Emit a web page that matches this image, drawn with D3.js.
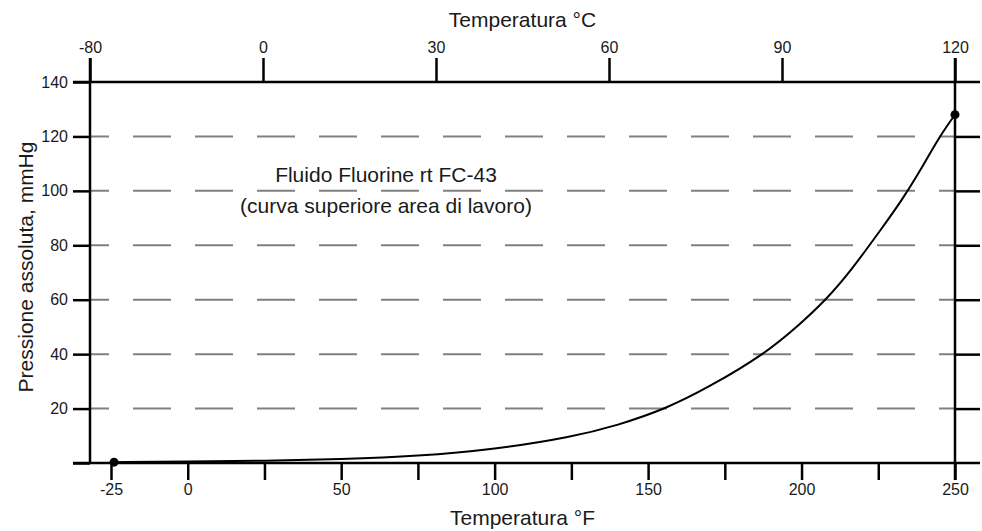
<!DOCTYPE html>
<html>
<head>
<meta charset="utf-8">
<script src="https://cdn.jsdelivr.net/npm/d3@7"></script>
<style>
  body { margin: 0; background: #fff; }
  svg { display: block; font-family: "Liberation Sans", Arial, sans-serif; }
</style>
</head>
<body>
<script>
// curve: temperature in F, absolute pressure in mmHg
var tempF    = [-24, 0, 25, 50, 75, 100, 125, 140, 156, 170, 188, 200, 208, 216, 226, 233, 240, 245, 250];
var pressure = [0.3, 0.5, 0.8, 1.4, 2.5, 5.0, 9.5, 13.8, 20, 28, 40, 51.5, 60, 70.5, 86, 97, 110, 120, 128];

var ticksF      = [-25, 0, 25, 50, 75, 100, 125, 150, 175, 200, 225, 250];
var labelsF     = [-25, 0, 50, 100, 150, 200, 250];
var ticksC      = [-80, 0, 30, 60, 90, 120];
var ticksP      = [0, 20, 40, 60, 80, 100, 120, 140];
var gridP       = [20, 40, 60, 80, 100, 120];

var W = 982, H = 531;
//NB: "top" is taken by window.top, so plot* names
var plotL = 90, plotR = 955, plotT = 82, plotB = 463;

var svg = d3.select("body").append("svg")
    .attr("width", W)
    .attr("height", H);

// scales
var x = d3.scaleLinear().domain([-25, 250]).range([111, plotR]);
var xC = d3.scaleLinear().domain([-80, 0, 120]).range([plotL, 263, plotR]); // -80 sits on the frame edge
var y = d3.scaleLinear().domain([0, 140]).range([plotB, plotT]);

//dashed grid
svg.append("g").selectAll("line")
    .data(gridP)
    .enter()
    .append("line")
    .attr("x1", plotL)
    .attr("x2", plotR)
    .attr("y1", function(d) { return y(d); })
    .attr("y2", function(d) { return y(d); })
    .attr("stroke", "#808080")
    .attr("stroke-width", 2)
    .attr("stroke-dasharray", "38,24")
    .attr("stroke-dashoffset", 19);

function styleAxis(g, size) {
  g.attr("font-size", size).attr("font-family", "'Liberation Sans', Arial, sans-serif");
  g.select(".domain").remove();
  g.selectAll(".tick line").attr("stroke", "#000").attr("stroke-width", 2.5);
  g.selectAll(".tick text").attr("fill", "#1a1a1a");
}

// bottom axis (F)
var gB = svg.append("g")
    .attr("transform", "translate(0," + plotB + ")")
    .call(d3.axisBottom(x).tickValues(ticksF).tickSize(17).tickPadding(4)
      .tickFormat(function(d) { return labelsF.indexOf(d) >= 0 ? String(d) : ""; }));
styleAxis(gB, 16);

// top axis (C)
var gT = svg.append("g")
    .attr("transform", "translate(0," + plotT + ")")
    .call(d3.axisTop(xC).tickValues(ticksC).tickSize(24).tickPadding(5)
      .tickFormat(function(d) { return String(d); }));
styleAxis(gT, 16);

// left axis
var gL = svg.append("g")
    .attr("transform", "translate(" + plotL + ",0)")
    .call(d3.axisLeft(y).tickValues(ticksP).tickSize(17).tickPadding(5)
      .tickFormat(function(d) { return d === 0 ? "" : String(d); }));
styleAxis(gL, 16);

// right ticks
var gR = svg.append("g")
    .attr("transform", "translate(" + plotR + ",0)")
    .call(d3.axisRight(y).tickValues(gridP).tickSize(25).tickFormat(""));
styleAxis(gR, 16);

// frame lines
var frame = [
  [73, plotT, 980, plotT],
  [73, plotB, 980, plotB],
  [plotL, plotT - 24, plotL, plotB],
  [plotR, plotT - 24, plotR, plotB + 17]
];
svg.append("g").selectAll("line")
    .data(frame)
    .enter()
    .append("line")
    .attr("x1", function(d) { return d[0]; })
    .attr("y1", function(d) { return d[1]; })
    .attr("x2", function(d) { return d[2]; })
    .attr("y2", function(d) { return d[3]; })
    .attr("stroke", "#000")
    .attr("stroke-width", 2.5);

// curve
var pts = tempF.map(function(t, i) { return [t, pressure[i]]; });
var line = d3.line()
    .x(function(d) { return x(d[0]); })
    .y(function(d) { return y(d[1]); })
    .curve(d3.curveBasis);

svg.append("path")
    .datum(pts)
    .attr("d", line)
    .attr("fill", "none")
    .attr("stroke", "#000")
    .attr("stroke-width", 2);

// end points
svg.selectAll("circle.end")
    .data([pts[0], pts[pts.length - 1]])
    .enter()
    .append("circle")
    .attr("class", "end")
    .attr("cx", function(d) { return x(d[0]); })
    .attr("cy", function(d) { return y(d[1]); })
    .attr("r", 4.5)
    .attr("fill", "#000");

// titles
function label(tx, ty, txt, rot) {
  var t = svg.append("text")
      .attr("text-anchor", "middle")
      .attr("fill", "#1a1a1a")
      .style("font-size", "21px")
      .text(txt);
  if (rot) t.attr("transform", "translate(" + tx + "," + ty + ") rotate(-90)");
  else t.attr("x", tx).attr("y", ty);
  return t;
}

label((plotL + plotR) / 2, 27, "Temperatura °C");
label((plotL + plotR) / 2, 525, "Temperatura °F");
label(33, 267, "Pressione assoluta, mmHg", true);

// annotation
label(386, 182, "Fluido Fluorine rt FC-43");
label(386, 213, "(curva superiore area di lavoro)");
</script>
</body>
</html>
